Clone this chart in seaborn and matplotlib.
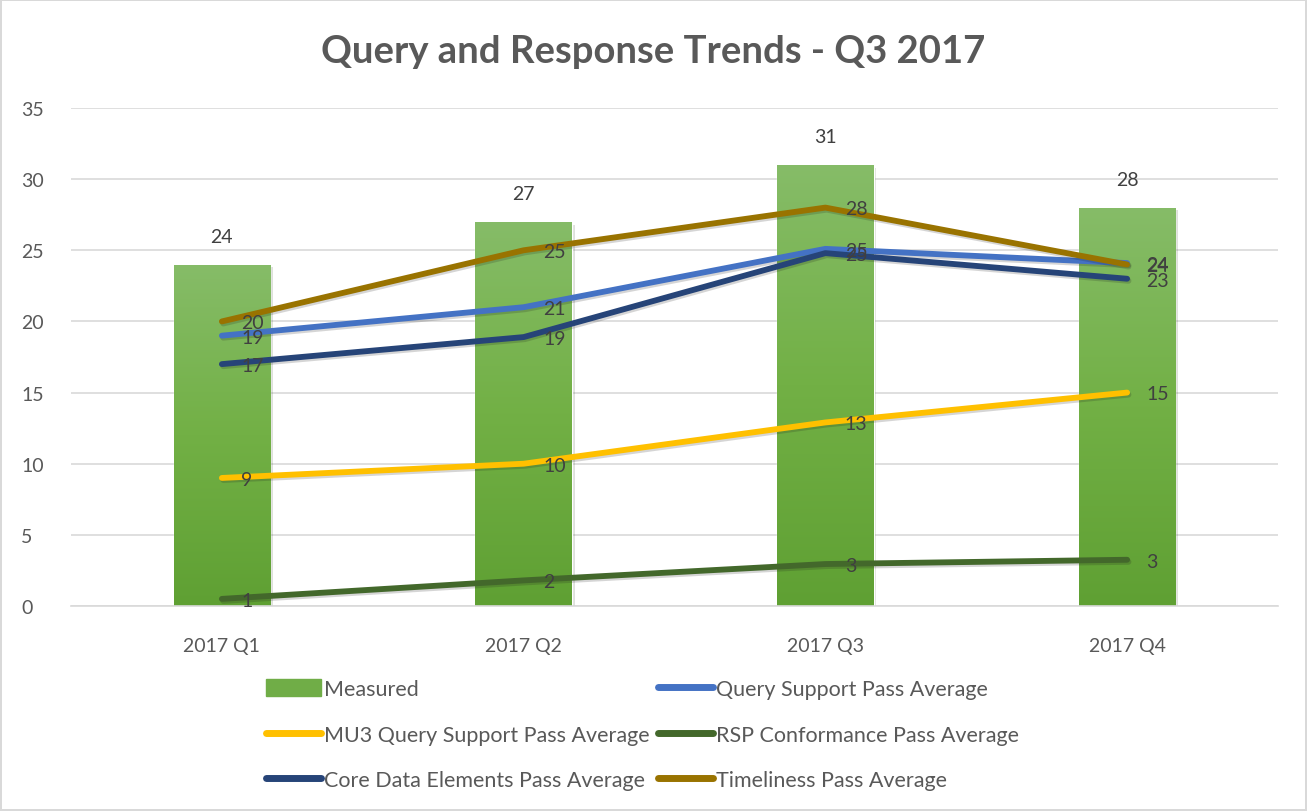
import numpy as np
import pandas as pd
import matplotlib
matplotlib.use("Agg")
import matplotlib.pyplot as plt
import matplotlib.patheffects as pe
from matplotlib.patches import Patch
from matplotlib.lines import Line2D
import seaborn as sns

# valorile
quarters = ["2017 Q1", "2017 Q2", "2017 Q3", "2017 Q4"]
measured = [24, 27, 31, 28]
query_support = [19, 21, 25.1, 24.1]
mu3_query = [9, 10, 12.9, 15]
rsp_conformance = [0.5, 1.8, 2.95, 3.25]
core_data = [17, 18.9, 24.8, 23]
timeliness = [20, 25, 28, 24]

line_series = [
    ("Query Support Pass Average", query_support, "#4472C4"),
    ("MU3 Query Support Pass Average", mu3_query, "#FFC000"),
    ("RSP Conformance Pass Average", rsp_conformance, "#43682B"),
    ("Core Data Elements Pass Average", core_data, "#264478"),
    ("Timeliness Pass Average", timeliness, "#997300"),
]

sns.set_theme(style="white")
plt.rcParams["font.family"] = ["Lato", "DejaVu Sans"]

fig = plt.figure(figsize=(13.07, 8.12), dpi=100)
fig.patch.set_edgecolor("#D9D9D9")
fig.patch.set_linewidth(1.5)
ax = fig.add_axes([71 / 1307, 1 - 607 / 812, 1207 / 1307, 498 / 812])

df = pd.DataFrame({"quarter": quarters, "measured": measured})
sns.barplot(data=df, x="quarter", y="measured", color="#70AD47", width=0.32,
            saturation=1, ax=ax, zorder=2)

# gradient pe bare
grad = np.linspace(0, 1, 256).reshape(-1, 1)
cmap = matplotlib.colors.LinearSegmentedColormap.from_list(
    "g", ["#5FA033", "#72B045", "#86BC68"])
for bar in ax.patches:
    x0, y0 = bar.get_x(), bar.get_y()
    w, h = bar.get_width(), bar.get_height()
    bar.set_path_effects([pe.SimplePatchShadow(offset=(2, -2), alpha=0.15), pe.Normal()])
    im = ax.imshow(grad, extent=[x0, x0 + w, y0, y0 + h], origin="lower",
                   cmap=cmap, aspect="auto", zorder=2.1)
    im.set_clip_path(bar)
    ax.annotate(f"{bar.get_height():.0f}", (x0 + w / 2, y0 + h), xytext=(0, 14),
                textcoords="offset points", ha="center", va="bottom",
                fontsize=14, color="#404040")

shadow = [pe.SimpleLineShadow(offset=(1, -1.5), alpha=0.18, shadow_color="k"), pe.Normal()]
for name, vals, col in line_series:
    sns.lineplot(x=quarters, y=vals, color=col, linewidth=4.2, ax=ax, zorder=3,
                 solid_capstyle="round", path_effects=shadow)
    for i, v in enumerate(vals):
        ax.annotate(f"{int(v + 0.5)}", (i, v), xytext=(14, -1), textcoords="offset points",
                    ha="left", va="center", fontsize=14, color="#404040", zorder=4)

ax.set_xlim(-0.5, 3.5)
ax.set_ylim(0, 35)
ax.set_yticks(range(0, 36, 5))
ax.grid(axis="y", color="#D9D9D9", linewidth=1.2)
ax.set_axisbelow(True)
for s in ["top", "right", "left"]:
    ax.spines[s].set_visible(False)
ax.spines["bottom"].set_color("#D9D9D9")
ax.spines["bottom"].set_linewidth(1.2)
ax.set_xlabel("")
ax.set_ylabel("")
ax.tick_params(axis="both", length=0, labelsize=14, labelcolor="#595959")
ax.tick_params(axis="x", pad=22)
ax.tick_params(axis="y", pad=36)
for t in ax.get_yticklabels():
    t.set_horizontalalignment("left")

fig.text(0.5, 1 - 52 / 812, "Query and Response Trends - Q3 2017", ha="center", va="center",
         fontsize=27.5, fontweight="bold", color="#595959")

# legenda pe doua coloane
h = {name: Line2D([], [], color=col, linewidth=5, solid_capstyle="round")
     for name, _, col in line_series}
handles = [Patch(color="#70AD47"), h["MU3 Query Support Pass Average"],
           h["Core Data Elements Pass Average"], h["Query Support Pass Average"],
           h["RSP Conformance Pass Average"], h["Timeliness Pass Average"]]
labels = ["Measured", "MU3 Query Support Pass Average", "Core Data Elements Pass Average",
          "Query Support Pass Average", "RSP Conformance Pass Average", "Timeliness Pass Average"]
fig.legend(handles, labels, ncol=2, loc="upper left", bbox_to_anchor=(266 / 1307, 1 - 680 / 812),
           frameon=False, fontsize=15.5, labelcolor="#595959", handlelength=2.55,
           handleheight=0.85, handletextpad=0.15, columnspacing=0.37, labelspacing=1.19,
           borderpad=0, borderaxespad=0)

fig.savefig("out.png", dpi=100)
